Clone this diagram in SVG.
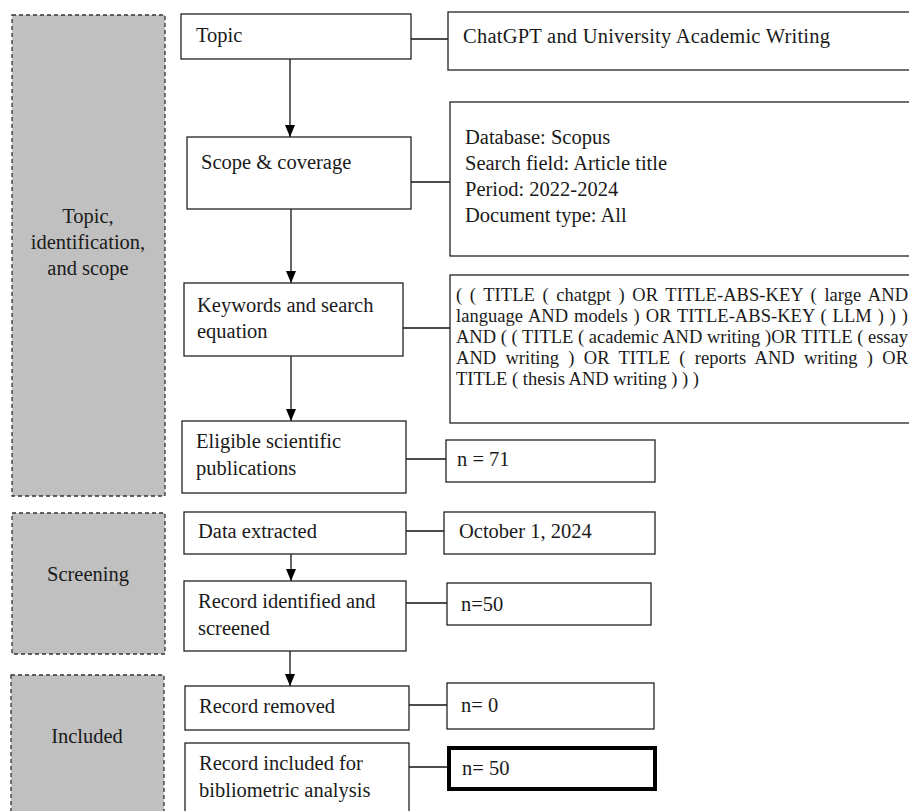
<svg xmlns="http://www.w3.org/2000/svg" width="909" height="811" viewBox="0 0 909 811">
<style>
text{font-family:"Liberation Serif","Times New Roman",serif;font-size:20.5px;fill:#1a1a1a}
.eq{font-size:18.5px}
.mid{text-anchor:middle}
.box{fill:#fff;stroke:#222;stroke-width:1.3}
.thick{fill:#fff;stroke:#000;stroke-width:4}
.panel{fill:#c0c0c0;stroke:#333;stroke-width:1.3;stroke-dasharray:4 3}
.conn line{stroke:#111;stroke-width:1.3}
</style>
<defs>
<marker id="arr" markerWidth="12" markerHeight="10" refX="12" refY="5" orient="auto" markerUnits="userSpaceOnUse" viewBox="0 0 12 10">
<path d="M0,0 L12,5 L0,10 Z" fill="#000"/>
</marker>
</defs>
<rect width="909" height="811" fill="#fff"/>

<g id="panel-topic">
<rect class="panel" x="12" y="15" width="153" height="481"/>
<text class="mid" x="88" y="223">Topic,</text>
<text class="mid" x="88" y="249">identification,</text>
<text class="mid" x="88" y="275">and scope</text>
</g>
<g id="panel-screening">
<rect class="panel" x="12" y="513" width="153" height="141"/>
<text class="mid" x="88" y="581">Screening</text>
</g>
<g id="panel-included">
<rect class="panel" x="11" y="675" width="153" height="150"/>
<text class="mid" x="87" y="743">Included</text>
</g>

<g class="conn" id="connectors">
<line x1="411" y1="39" x2="448" y2="39"/>
<line x1="411" y1="182" x2="450" y2="182"/>
<line x1="403" y1="328" x2="450" y2="328"/>
<line x1="406" y1="459" x2="446" y2="459"/>
<line x1="406" y1="531" x2="444" y2="531"/>
<line x1="406" y1="603" x2="447" y2="603"/>
<line x1="409" y1="705" x2="447" y2="705"/>
<line x1="409" y1="767" x2="447" y2="767"/>
<line x1="290" y1="59" x2="290" y2="137" marker-end="url(#arr)"/>
<line x1="291" y1="209" x2="291" y2="283" marker-end="url(#arr)"/>
<line x1="291" y1="356" x2="291" y2="421" marker-end="url(#arr)"/>
<line x1="291" y1="554" x2="291" y2="581" marker-end="url(#arr)"/>
<line x1="290" y1="651" x2="290" y2="686" marker-end="url(#arr)"/>
</g>

<g id="topic"><rect class="box" x="181" y="14" width="230" height="45"/><text x="196" y="42">Topic</text></g>
<g id="topic-detail"><rect class="box" x="448" y="12" width="470" height="58"/><text x="463" y="43" textLength="367" lengthAdjust="spacing">ChatGPT and University Academic Writing</text></g>

<g id="scope"><rect class="box" x="187" y="137" width="224" height="72"/><text x="201" y="169">Scope &amp; coverage</text></g>
<g id="scope-detail"><rect class="box" x="450" y="102" width="470" height="154"/>
<text x="465" y="144">Database: Scopus</text>
<text x="465" y="170">Search field: Article title</text>
<text x="465" y="196">Period: 2022-2024</text>
<text x="465" y="222">Document type: All</text>
</g>

<g id="keywords"><rect class="box" x="184" y="283" width="219" height="73"/>
<text x="197" y="312">Keywords and search</text>
<text x="197" y="338">equation</text>
</g>
<g id="equation"><rect class="box" x="450" y="275" width="470" height="148"/>
<text class="eq" x="456" y="301" word-spacing="2.9" textLength="452" lengthAdjust="spacing">( ( TITLE ( chatgpt ) OR TITLE-ABS-KEY ( large AND</text>
<text class="eq" x="456" y="322" word-spacing="1.2" textLength="452" lengthAdjust="spacing">language AND models ) OR TITLE-ABS-KEY ( LLM ) ) )</text>
<text class="eq" x="456" y="343" textLength="452" lengthAdjust="spacing">AND ( ( TITLE ( academic AND writing )OR TITLE ( essay</text>
<text class="eq" x="456" y="364" word-spacing="4.6" textLength="452" lengthAdjust="spacing">AND writing ) OR TITLE ( reports AND writing ) OR</text>
<text class="eq" x="456" y="385">TITLE ( thesis AND writing ) ) )</text>
</g>

<g id="eligible"><rect class="box" x="182" y="421" width="224" height="72"/>
<text x="196" y="448">Eligible scientific</text>
<text x="196" y="475">publications</text>
</g>
<g id="n71"><rect class="box" x="446" y="440" width="209" height="42"/><text x="457" y="466">n = 71</text></g>

<g id="data-extracted"><rect class="box" x="184" y="512" width="222" height="42"/><text x="198" y="538">Data extracted</text></g>
<g id="date"><rect class="box" x="444" y="512" width="211" height="42"/><text x="459" y="538">October 1, 2024</text></g>

<g id="identified"><rect class="box" x="184" y="581" width="222" height="70"/>
<text x="198" y="608">Record identified and</text>
<text x="198" y="635">screened</text>
</g>
<g id="n50a"><rect class="box" x="447" y="583" width="204" height="42"/><text x="461" y="611">n=50</text></g>

<g id="removed"><rect class="box" x="185" y="686" width="224" height="44"/><text x="199" y="713">Record removed</text></g>
<g id="n0"><rect class="box" x="447" y="683" width="207" height="46"/><text x="461" y="712">n= 0</text></g>

<g id="included"><rect class="box" x="185" y="743" width="224" height="80"/>
<text x="199" y="770">Record included for</text>
<text x="199" y="797">bibliometric analysis</text>
</g>
<g id="n50b"><rect class="thick" x="449" y="748" width="206" height="41"/><text x="462" y="775">n= 50</text></g>
</svg>
